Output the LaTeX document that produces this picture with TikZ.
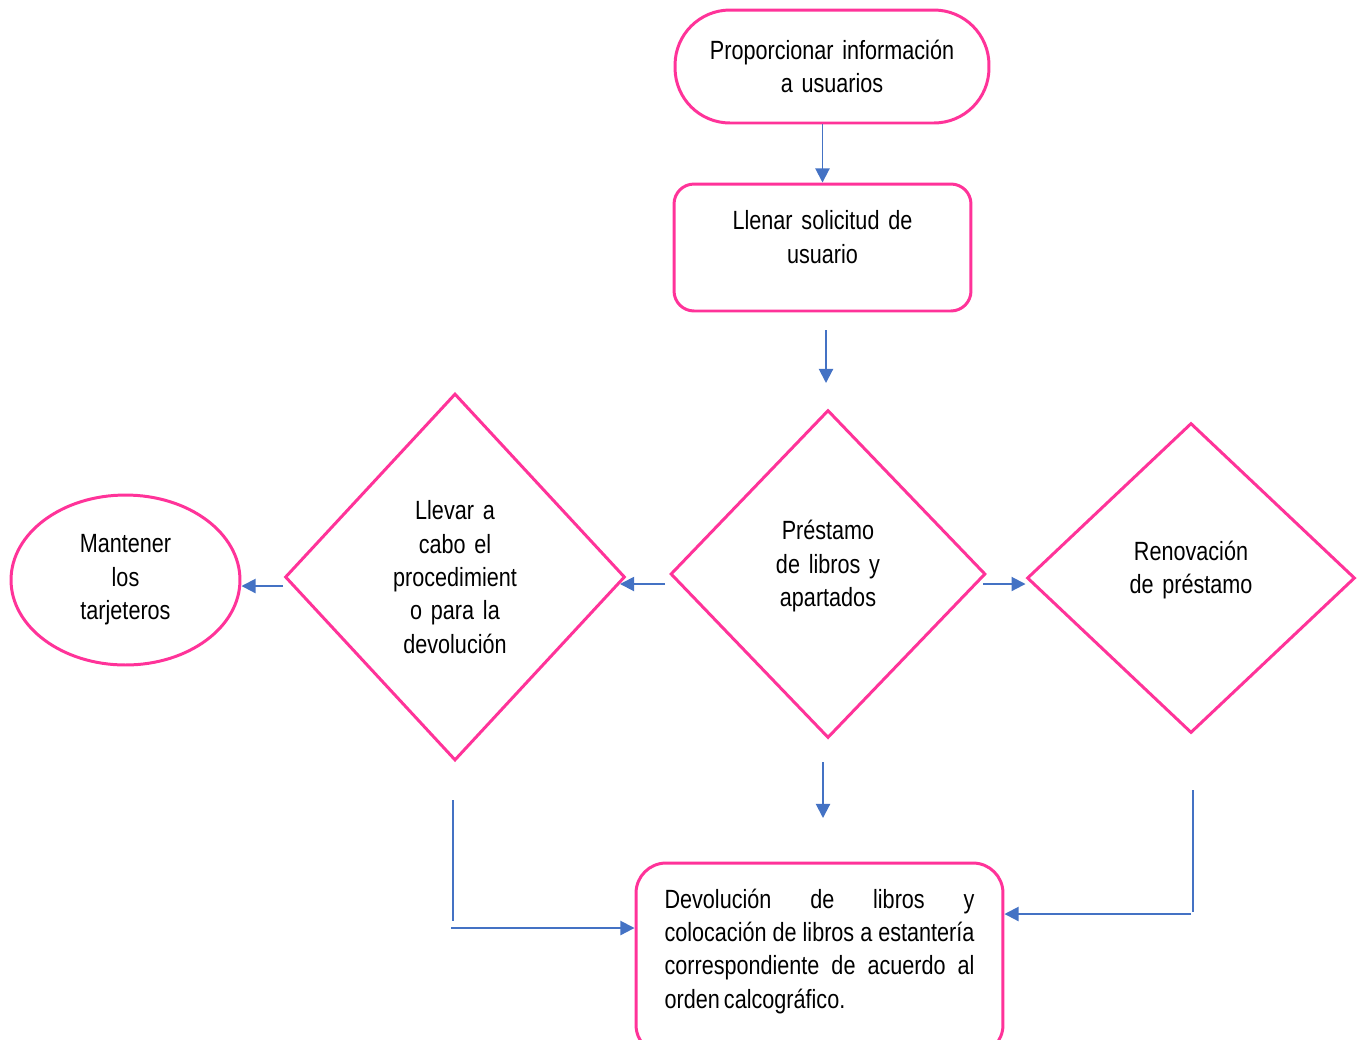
\documentclass[tikz,border=0pt]{standalone}
\usepackage{fontspec}
\setmainfont{Liberation Sans}[FakeStretch=0.82, WordSpace=0.7]
\usetikzlibrary{shapes.geometric,arrows.meta,positioning,calc}
\definecolor{rosa}{RGB}{255,51,153}
\definecolor{azul}{RGB}{68,114,196}
\tikzstyle{base} = [draw=rosa, line width=1.7pt, font=\fontsize{15}{19}\selectfont, align=center, inner sep=0pt]
\tikzstyle{inicio} = [base, rectangle, rounded corners=1.1cm, minimum width=6.28cm, minimum height=2.26cm, text width=5.6cm]
\tikzstyle{caja} = [base, rectangle, rounded corners=0.4cm]
\tikzstyle{rombo} = [base, diamond]
\tikzstyle{ovalo} = [base, ellipse, minimum width=4.58cm, minimum height=3.4cm, text width=2.5cm]
\tikzstyle{flow} = [draw=azul, line width=1.1pt, -{Triangle[length=8pt,width=8pt]}]
\tikzstyle{plain} = [draw=azul, line width=1.1pt]

\begin{document}
\begin{tikzpicture}[x=0.02cm, y=-0.02cm]
    \useasboundingbox (0,0) rectangle (1361,1039);

    \node [inicio] (info) at (832,66.5) {Proporcionar información\\a usuarios};
    \node [caja, minimum width=5.94cm, minimum height=2.54cm, text width=4.8cm, text depth=31pt] (solicitud) at (822.5,247.5)
      {Llenar solicitud de\\usuario};
    \node [rombo, minimum width=6.3cm, minimum height=6.56cm, text width=2.6cm, text depth=50pt] (prestamo) at (828,574)
      {Préstamo\\de libros y\\apartados};
    \node [rombo, minimum width=6.8cm, minimum height=7.34cm, text width=3cm] (llevar) at (455,577)
      {Llevar a\\cabo el\\procedimient\\o para la\\devolución};
    \node [rombo, minimum width=6.56cm, minimum height=6.2cm, text width=3cm, text depth=31pt] (renovacion) at (1191,578)
      {Renovación\\de préstamo};
    \node [ovalo] (tarjeteros) at (125.5,580) {Mantener\\los\\tarjeteros};
    \node [caja, rounded corners=0.6cm, minimum width=7.34cm, minimum height=3.84cm, text width=6.2cm, align=justify, text depth=69pt] (devolucion) at (819.5,959)
      {Devolución de libros y\linebreak colocación de libros a estantería\linebreak correspondiente de acuerdo al\linebreak orden calcográfico.};

    % conectores
    \coordinate (b1) at (826,330);
    \coordinate (b2) at (826,383);
    \coordinate (c1) at (665,584);
    \coordinate (c2) at (620,584);
    \coordinate (d1) at (283,586);
    \coordinate (e1) at (983,584);
    \coordinate (f1) at (823,762);
    \coordinate (f2) at (823,818);
    \coordinate (g1) at (453,800);
    \coordinate (g2) at (453,921);
    \coordinate (g3) at (451,928);
    \coordinate (h1) at (1193,790);
    \coordinate (h2) at (1193,912);
    \coordinate (h3) at (1191,914);

    \draw [flow] (solicitud.north |- info.south) -- (solicitud.north);
    \draw [flow] (b1) -- (b2);
    \draw [flow] (c1) -- (c2);
    \draw [flow] (d1) -- (d1 -| tarjeteros.east);
    \draw [flow] (e1) -- (e1 -| renovacion.west);
    \draw [flow] (f1) -- (f2);
    \draw [plain] (g1) -- (g2);
    \draw [flow] (g3) -- (g3 -| devolucion.west);
    \draw [plain] (h1) -- (h2);
    \draw [flow] (h3) -- (h3 -| devolucion.east);
\end{tikzpicture}
\end{document}
